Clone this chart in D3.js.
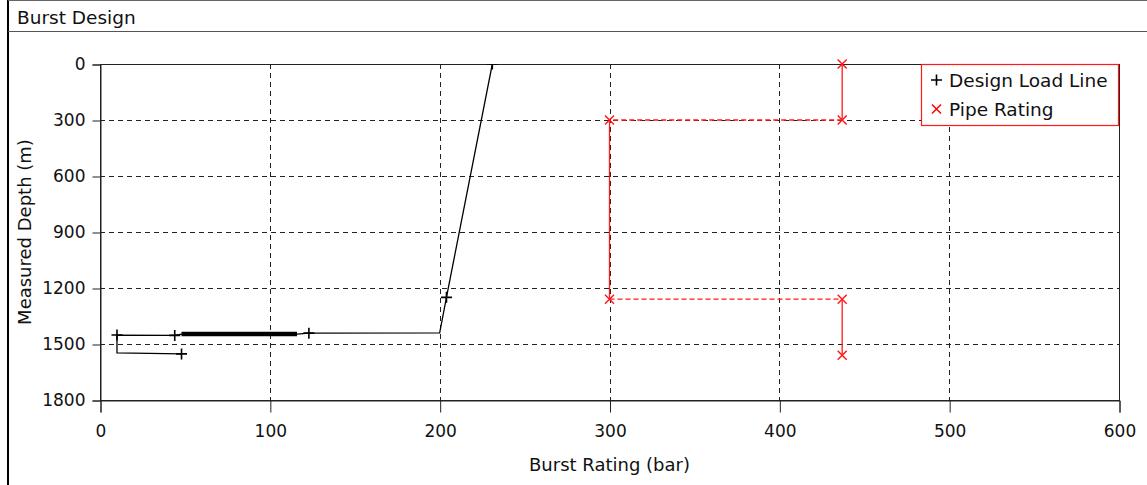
<!DOCTYPE html>
<html>
<head>
<meta charset="utf-8">
<script src="https://cdn.jsdelivr.net/npm/d3@7"></script>
<style>
  html, body { margin: 0; padding: 0; background: #fff; }
  svg { display: block; }
  text { font-family: "DejaVu Sans", sans-serif; fill: #111; }
</style>
</head>
<body>
<svg id="chart" width="1147" height="485"></svg>
<script>
// Burst design: design load line vs. pipe rating (bar) over measured depth (m)
const title = "Burst Design";
const xLabel = "Burst Rating (bar)";
const yLabel = "Measured Depth (m)";
const xTicks = [0, 100, 200, 300, 400, 500, 600];
const yTicks = [0, 300, 600, 900, 1200, 1500, 1800];

// Design load line: [burst pressure (bar), measured depth (m)]
const designLoad = [
  [231, 0], [204, 1250], [200, 1440], [123, 1442], [116, 1447],
  [48, 1447], [44, 1454], [10, 1452], [10, 1548], [48, 1553]
];
// Points of the design load line that carry a "+" marker
const designMarkers = [
  [231, 0], [204, 1250], [123, 1442], [44, 1454], [10, 1452], [48, 1553]
];
// Dense section of the load line (index range in designLoad)
const denseRange = [4, 5];

// Pipe rating step profile
const pipeRating = [
  [437, 0], [437, 300], [300, 300], [300, 1260], [437, 1260], [437, 1560]
];

const legendItems = [
  { name: "Design Load Line", symbol: "+", color: "#000" },
  { name: "Pipe Rating", symbol: "x", color: "#ff0000" }
];

const svg = d3.select("#chart");
const W = 1147, H = 485;
const plot = { left: 100, right: 1119, top: 64, bottom: 400 };

const x = d3.scaleLinear().domain([0, 600]).range([plot.left, plot.right]);
const y = d3.scaleLinear().domain([0, 1800]).range([plot.top, plot.bottom]);

// Panel frame and header
svg.append("rect").attr("x", 0).attr("y", 0).attr("width", W).attr("height", H).attr("fill", "#fff");
svg.append("line").attr("x1", 8).attr("x2", 8).attr("y1", 0).attr("y2", H)
  .attr("stroke", "#000").attr("stroke-width", 2);
svg.append("line").attr("x1", 8).attr("x2", W).attr("y1", 0.5).attr("y2", 0.5)
  .attr("stroke", "#666").attr("stroke-width", 1);
svg.append("line").attr("x1", 8).attr("x2", W).attr("y1", 31.5).attr("y2", 31.5)
  .attr("stroke", "#555").attr("stroke-width", 1);
svg.append("text").attr("x", 17).attr("y", 24).attr("font-size", 18.5).text(title);

// Grid
const grid = svg.append("g").attr("stroke", "#222").attr("stroke-width", 1)
  .attr("stroke-dasharray", "5,4");
xTicks.filter(v => v > 0 && v < 600).forEach(v => {
  grid.append("line").attr("x1", Math.round(x(v)) + 0.5).attr("x2", Math.round(x(v)) + 0.5)
    .attr("y1", plot.top).attr("y2", plot.bottom);
});
yTicks.filter(v => v > 0 && v < 1800).forEach(v => {
  grid.append("line").attr("y1", Math.round(y(v)) + 0.5).attr("y2", Math.round(y(v)) + 0.5)
    .attr("x1", plot.left).attr("x2", plot.right);
});

// Plot border
svg.append("rect").attr("x", plot.left + 0.5).attr("y", plot.top + 0.5)
  .attr("width", plot.right - plot.left).attr("height", plot.bottom - plot.top)
  .attr("fill", "none").attr("stroke", "#222").attr("stroke-width", 1);

// Axes
const xAxis = d3.axisBottom(x).tickValues(xTicks).tickFormat(d3.format("d")).tickSize(12).tickPadding(12);
const yAxis = d3.axisLeft(y).tickValues(yTicks).tickFormat(d3.format("d")).tickSize(8).tickPadding(7);
const gx = svg.append("g").attr("transform", `translate(0.5,${plot.bottom + 0.5})`).call(xAxis);
const gy = svg.append("g").attr("transform", `translate(${plot.left + 0.5},0.5)`).call(yAxis);
[gx, gy].forEach(g => {
  g.select(".domain").attr("stroke", "#222");
  g.selectAll(".tick line").attr("stroke", "#222");
  g.selectAll(".tick text").attr("font-size", 17).attr("font-family", "DejaVu Sans, sans-serif").attr("fill", "#111");
});

svg.append("text").attr("x", (plot.left + plot.right) / 2).attr("y", 471)
  .attr("text-anchor", "middle").attr("font-size", 18).text(xLabel);
svg.append("text").attr("transform", `translate(31,${(plot.top + plot.bottom) / 2}) rotate(-90)`)
  .attr("text-anchor", "middle").attr("font-size", 18).text(yLabel);

// Clip for data
svg.append("clipPath").attr("id", "plotClip").append("rect")
  .attr("x", plot.left).attr("y", plot.top)
  .attr("width", plot.right - plot.left + 1).attr("height", plot.bottom - plot.top + 1);

const line = d3.line().x(d => x(d[0])).y(d => y(d[1]));

// Design load line
const dl = svg.append("g").attr("clip-path", "url(#plotClip)");
dl.append("path").datum(designLoad).attr("d", line)
  .attr("fill", "none").attr("stroke", "#000").attr("stroke-width", 1.3);
dl.append("path").datum(designLoad.slice(denseRange[0], denseRange[1] + 1)).attr("d", line)
  .attr("fill", "none").attr("stroke", "#000").attr("stroke-width", 4.5);

function plus(g, pts, color, r) {
  g.selectAll(null).data(pts).join("path")
    .attr("d", d => `M${x(d[0]) - r},${y(d[1])}H${x(d[0]) + r}M${x(d[0])},${y(d[1]) - r}V${y(d[1]) + r}`)
    .attr("stroke", color).attr("stroke-width", 1.6).attr("fill", "none");
}
function cross(g, pts, color, r) {
  g.selectAll(null).data(pts).join("path")
    .attr("d", d => `M${x(d[0]) - r},${y(d[1]) - r}L${x(d[0]) + r},${y(d[1]) + r}M${x(d[0]) - r},${y(d[1]) + r}L${x(d[0]) + r},${y(d[1]) - r}`)
    .attr("stroke", color).attr("stroke-width", 1.5).attr("fill", "none");
}
plus(dl, designMarkers, "#000", 5.5);

// Pipe rating: vertical runs solid, horizontal steps dashed
const pr = svg.append("g");
d3.pairs(pipeRating).forEach(([a, b]) => {
  pr.append("path").datum([a, b]).attr("d", line)
    .attr("fill", "none").attr("stroke", "#ff1a1a").attr("stroke-width", 1.3)
    .attr("stroke-dasharray", a[1] === b[1] ? "5,3" : null);
});
cross(pr, pipeRating, "#ff1a1a", 4.5);

// Legend
const lg = svg.append("g");
lg.append("rect").attr("x", 921.5).attr("y", 64.5).attr("width", 197).attr("height", 61)
  .attr("fill", "#fff").attr("stroke", "#ff1a1a").attr("stroke-width", 1.2);
legendItems.forEach((it, i) => {
  const cy = 80 + i * 29;
  const g = lg.append("g");
  if (it.symbol === "+") {
    g.append("path").attr("d", `M${931},${cy}H${942}M${936.5},${cy - 5.5}V${cy + 5.5}`)
      .attr("stroke", it.color).attr("stroke-width", 1.6);
  } else {
    g.append("path").attr("d", `M${932},${cy - 4.5}L${941},${cy + 4.5}M${932},${cy + 4.5}L${941},${cy - 4.5}`)
      .attr("stroke", it.color).attr("stroke-width", 1.5);
  }
  g.append("text").attr("x", 949).attr("y", cy + 6.5).attr("font-size", 18.5).text(it.name);
});
</script>
</body>
</html>
